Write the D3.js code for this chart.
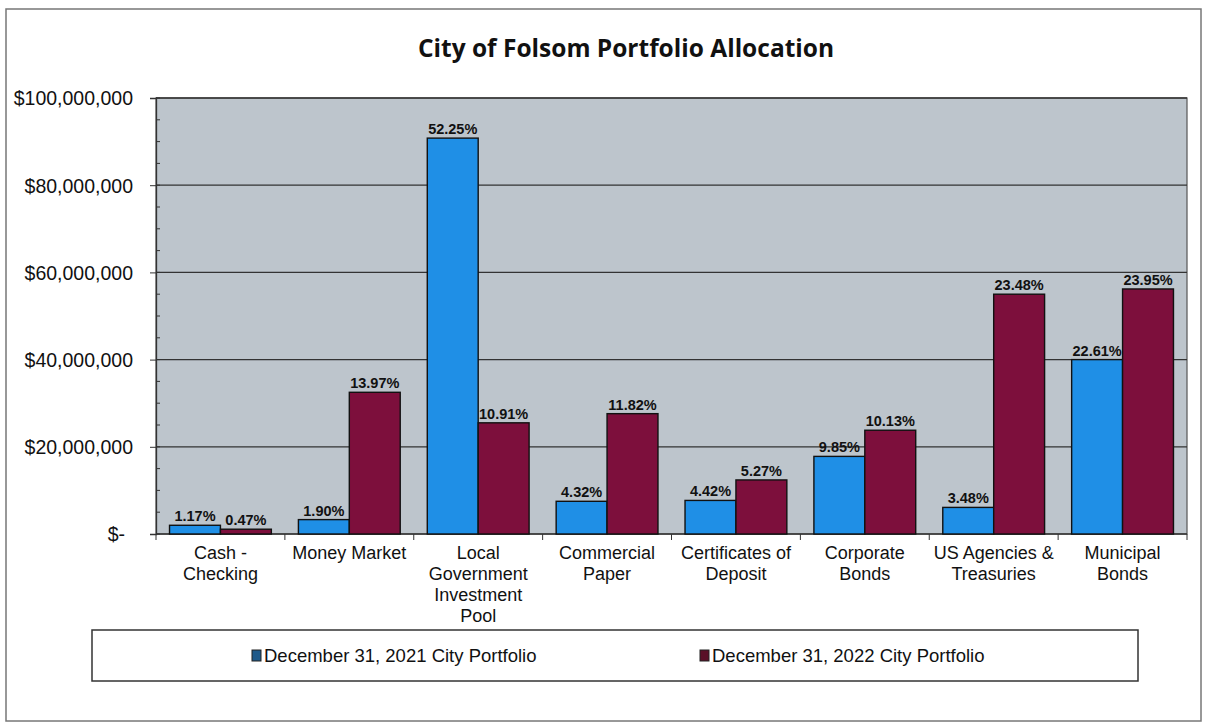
<!DOCTYPE html>
<html lang="en">

<head>
  <meta charset="utf-8">
  <title>City of Folsom Portfolio Allocation</title>
  <script src="https://d3js.org/d3.v7.min.js"></script>
  <style>
    body { margin: 0; background: #fff; }
    svg text { font-family: "Liberation Sans", Arial, sans-serif; fill: #111; }
  </style>
</head>

<body>
  <div id="chart"></div>

  <script>
    // Data
    var categories = [
      ["Cash -", "Checking"],
      ["Money Market"],
      ["Local", "Government", "Investment", "Pool"],
      ["Commercial", "Paper"],
      ["Certificates of", "Deposit"],
      ["Corporate", "Bonds"],
      ["US Agencies &", "Treasuries"],
      ["Municipal", "Bonds"]
    ];
    var seriesNames = ["December 31, 2021 City Portfolio", "December 31, 2022 City Portfolio"];
    var values2021 = [2000000, 3300000, 90800000, 7500000, 7700000, 17800000, 6100000, 40000000];
    var values2022 = [1100000, 32500000, 25500000, 27600000, 12400000, 23800000, 55000000, 56200000];
    var labels2021 = ["1.17%", "1.90%", "52.25%", "4.32%", "4.42%", "9.85%", "3.48%", "22.61%"];
    var labels2022 = ["0.47%", "13.97%", "10.91%", "11.82%", "5.27%", "10.13%", "23.48%", "23.95%"];
    var yTicks = [0, 20000000, 40000000, 60000000, 80000000, 100000000];
    var colors = ["#1f8fe6", "#7d0f3c"];

    var W = 1210, H = 726;
    var plot = { left: 156, right: 1187, top: 98, bottom: 534 };

    var svg = d3.select("#chart").append("svg")
      .attr("width", W).attr("height", H);

    // outer frame
    svg.append("rect")
      .attr("x", 6).attr("y", 9).attr("width", 1195).attr("height", 712)
      .attr("fill", "#fff").attr("stroke", "#777").attr("stroke-width", 1.5);

    // title
    svg.append("text")
      .attr("x", 626).attr("y", 57)
      .attr("text-anchor", "middle")
      .style("font-family", "'Open Sans', 'Noto Sans', sans-serif")
      .style("font-weight", "bold").style("font-size", "24.5px")
      .text("City of Folsom Portfolio Allocation");

    var idx = d3.range(categories.length);
    var x = d3.scaleBand().domain(idx).range([plot.left, plot.right]).paddingInner(0.21).paddingOuter(0.105);
    var xCat = d3.scaleBand().domain(idx).range([plot.left, plot.right]);
    var x1 = d3.scaleBand().domain([0, 1]).range([0, x.bandwidth()]);
    var y = d3.scaleLinear().domain([0, 100000000]).range([plot.bottom, plot.top]);

    // plot background
    svg.append("rect")
      .attr("x", plot.left).attr("y", plot.top)
      .attr("width", plot.right - plot.left).attr("height", plot.bottom - plot.top)
      .attr("fill", "#bdc5cc").attr("stroke", "#555").attr("stroke-width", 1.2);

    // gridlines
    svg.append("g").selectAll("line").data(yTicks.slice(1)).enter()
      .append("line")
      .attr("x1", plot.left).attr("x2", plot.right)
      .attr("y1", d => y(d)).attr("y2", d => y(d))
      .attr("stroke", "#333").attr("stroke-width", 1.3);

    // y axis
    var yAxis = svg.append("g")
      .attr("transform", "translate(" + plot.left + ",0)")
      .call(d3.axisLeft(y).tickValues(yTicks).tickSize(6).tickPadding(17)
        .tickFormat(d => d === 0 ? "$-" : "$" + d3.format(",")(d)));
    yAxis.select(".domain").attr("stroke", "#333").attr("stroke-width", 1.3);
    yAxis.selectAll(".tick line").attr("stroke", "#333");
    yAxis.selectAll(".tick text")
      .style("font-size", "19.5px")
      .attr("dx", d => d === 0 ? -8 : 0)
      .attr("dy", "0.35em");

    // minor ticks
    svg.append("g").selectAll("line").data(d3.range(0, 100000001, 5000000)).enter()
      .append("line")
      .attr("x1", plot.left).attr("x2", plot.left + 4)
      .attr("y1", d => y(d)).attr("y2", d => y(d))
      .attr("stroke", "#333");

    // x axis baseline + category ticks
    svg.append("line")
      .attr("x1", plot.left).attr("x2", plot.right)
      .attr("y1", plot.bottom).attr("y2", plot.bottom)
      .attr("stroke", "#333").attr("stroke-width", 1.5);
    svg.append("g").selectAll("line").data(d3.range(categories.length + 1)).enter()
      .append("line")
      .attr("x1", d => plot.left + d * xCat.step()).attr("x2", d => plot.left + d * xCat.step())
      .attr("y1", plot.bottom).attr("y2", plot.bottom + 6)
      .attr("stroke", "#333");

    // category labels
    var catLabels = svg.append("g").selectAll("text").data(idx).enter()
      .append("text")
      .attr("text-anchor", "middle")
      .attr("x", d => x(d) + x.bandwidth() / 2)
      .attr("y", plot.bottom + 25)
      .style("font-size", "18px");
    catLabels.selectAll("tspan").data(d => categories[d].map(t => ({ t: t, i: d }))).enter()
      .append("tspan")
      .attr("x", d => x(d.i) + x.bandwidth() / 2)
      .attr("dy", (d, j) => j === 0 ? 0 : 21)
      .text(d => d.t);

    // bars
    var series = [values2021, values2022];
    var seriesLabels = [labels2021, labels2022];
    series.forEach(function (vals, s) {
      svg.append("g").selectAll("rect").data(vals).enter()
        .append("rect")
        .attr("x", (d, i) => x(i) + x1(s))
        .attr("y", d => y(d))
        .attr("width", x1.bandwidth())
        .attr("height", d => plot.bottom - y(d))
        .attr("fill", colors[s])
        .attr("stroke", "#111").attr("stroke-width", 1.4);

      svg.append("g").selectAll("text").data(vals).enter()
        .append("text")
        .attr("text-anchor", "middle")
        .attr("x", (d, i) => x(i) + x1(s) + x1.bandwidth() / 2)
        .attr("y", d => y(d) - 4)
        .style("font-size", "14.5px").style("font-weight", "bold")
        .text((d, i) => seriesLabels[s][i]);
    });

    // legend
    var legend = svg.append("g");
    legend.append("rect")
      .attr("x", 92).attr("y", 630).attr("width", 1046).attr("height", 51)
      .attr("fill", "#fff").attr("stroke", "#333").attr("stroke-width", 1.5);
    var legendX = [252, 700];
    seriesNames.forEach(function (name, s) {
      legend.append("rect")
        .attr("x", legendX[s]).attr("y", 650).attr("width", 9).attr("height", 11)
        .attr("fill", s === 0 ? "#1f5a8a" : "#5a1028").attr("stroke", "#222");
      legend.append("text")
        .attr("x", legendX[s] + 12).attr("y", 662)
        .style("font-size", "18.5px")
        .text(name);
    });
  </script>
</body>

</html>
